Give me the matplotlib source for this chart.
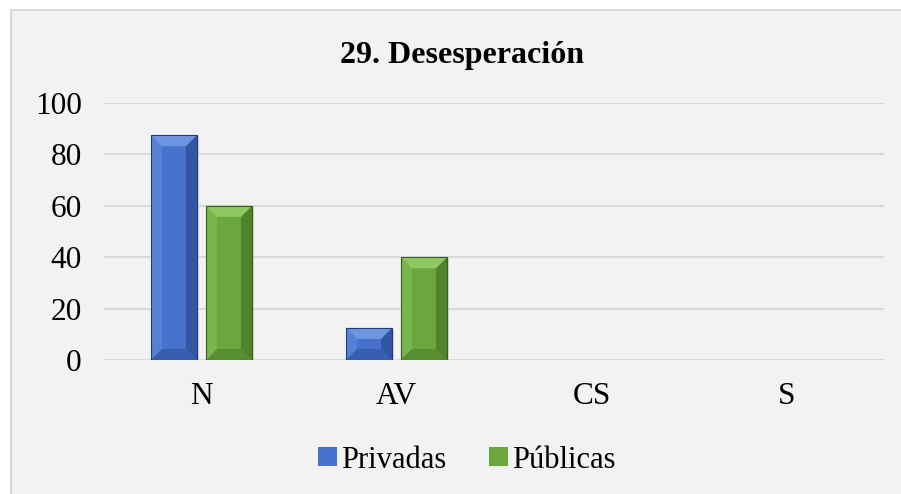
import matplotlib.pyplot as plt
from matplotlib.patches import Rectangle, Polygon
import numpy as np

plt.rcParams['font.family'] = ['Liberation Serif', 'DejaVu Serif']

# datos
categorias = ['N', 'AV', 'CS', 'S']
privadas = [87.5, 12.5, 0, 0]
publicas = [60, 40, 0, 0]
series = ['Privadas', 'Públicas']
colores = ['#4672cc', '#6aa83e']
oscuros = ['#1f3d7a', '#365f1c']
claros = ['#7da1e8', '#9bd46f']

fig = plt.figure(figsize=(9.01, 4.94), dpi=100)
fig.patch.set_facecolor('white')

# marco del grafico
marco = Rectangle((11 / 901, -0.1), 1.1, 1.1 - 10 / 494, transform=fig.transFigure,
                  facecolor='#f2f2f2', edgecolor='#d9d9d9', linewidth=1.5, zorder=-5)
fig.patches.append(marco)

ax = fig.add_axes([104 / 901, (494 - 360) / 494, 780 / 901, 257 / 494])
ax.set_facecolor('none')

x = np.arange(len(categorias))
ancho = 0.236
desp = 0.141

barras = []
for i, vals in enumerate([privadas, publicas]):
    b = ax.bar(x + (2 * i - 1) * desp, vals, ancho, color=colores[i], label=series[i], zorder=3)
    barras.append(b)

# relacion px por unidad: x -> 195 px, y -> 2.57 px
escala = 195 / 2.57


def bisel(rect, c_osc, c_cla):
    h = rect.get_height()
    if h <= 0:
        return
    x0 = rect.get_x()
    w = rect.get_width()
    dx = w * 0.24
    dy = min(dx * escala, h / 2)
    # sombra
    ax.add_patch(Rectangle((x0 + w * 0.05, -0.8), w, h + 0.3, facecolor='#c4c4c4',
                           edgecolor='none', alpha=0.6, zorder=2))
    # lados
    ax.add_patch(Polygon([(x0 + w, 0), (x0 + w, h), (x0 + w - dx, h - dy), (x0 + w - dx, dy)],
                         facecolor=c_osc, alpha=0.5, edgecolor='none', zorder=4))
    ax.add_patch(Polygon([(x0, 0), (x0, h), (x0 + dx, h - dy), (x0 + dx, dy)],
                         facecolor=c_cla, alpha=0.3, edgecolor='none', zorder=4))
    ax.add_patch(Polygon([(x0, h), (x0 + w, h), (x0 + w - dx, h - dy), (x0 + dx, h - dy)],
                         facecolor=c_cla, alpha=0.75, edgecolor='none', zorder=4))
    ax.add_patch(Polygon([(x0, 0), (x0 + w, 0), (x0 + w - dx, dy), (x0 + dx, dy)],
                         facecolor=c_osc, alpha=0.35, edgecolor='none', zorder=4))
    ax.add_patch(Rectangle((x0, 0), w, h, facecolor='none', edgecolor=c_osc,
                           linewidth=0.8, zorder=5))


for i, b in enumerate(barras):
    for r in b:
        bisel(r, oscuros[i], claros[i])

ax.set_xlim(-0.5, len(categorias) - 0.5)
ax.set_ylim(0, 100)
ax.set_yticks(np.arange(0, 101, 20))
ax.set_xticks(x)
ax.set_xticklabels(categorias)
ax.yaxis.grid(True, color='#d9d9d9', linewidth=1.5, zorder=0)
ax.set_axisbelow(True)
for s in ax.spines.values():
    s.set_visible(False)
ax.tick_params(axis='both', length=0, labelsize=22.5, colors='black')
ax.tick_params(axis='x', pad=16)
ax.tick_params(axis='y', pad=16)

fig.text(462 / 901, 1 - 55 / 494, '29. Desesperación', ha='center', va='center',
         fontsize=23, fontweight='bold')

fig.legend(handles=[b[0] for b in barras], labels=series, loc='center',
           bbox_to_anchor=(467 / 901, 1 - 460 / 494), ncol=2, frameon=False,
           fontsize=22, handlelength=0.6, handleheight=0.6, handletextpad=0.15,
           columnspacing=1.4)

fig.savefig('out.png', dpi=100)
